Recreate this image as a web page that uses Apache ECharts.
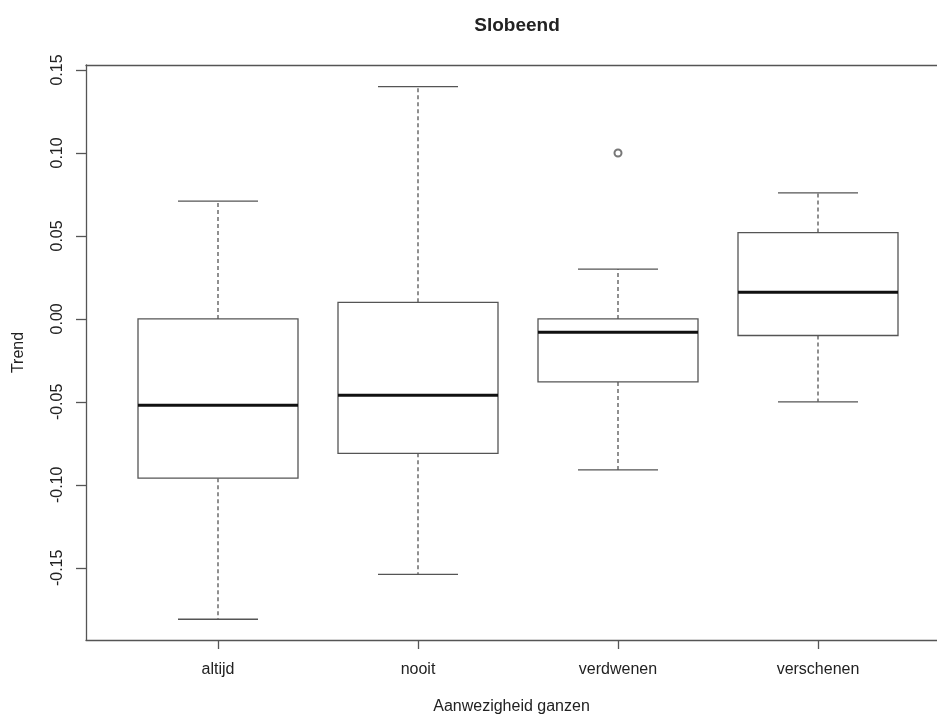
<!DOCTYPE html>
<html>
<head>
<meta charset="utf-8">
<script src="https://cdn.jsdelivr.net/npm/echarts@6/dist/echarts.min.js"></script>
<style>
html, body { margin: 0; padding: 0; background: #fff; }
#chart { width: 937px; height: 720px; }
</style>
</head>
<body>
<div id="chart"></div>
<script>
const categories = ['altijd', 'nooit', 'verdwenen', 'verschenen']
// per group: [lower whisker, Q1, median, Q3, upper whisker]
const boxStats = [
  [-0.181, -0.096, -0.052, 0.000, 0.071],
  [-0.154, -0.081, -0.046, 0.010, 0.140],
  [-0.091, -0.038, -0.008, 0.000, 0.030],
  [-0.050, -0.010, 0.016, 0.052, 0.076]
]
const outlierGroups = ['verdwenen']
const outlierValues = [0.100]
const yTicks = [-0.15, -0.10, -0.05, 0.00, 0.05, 0.10, 0.15]
const xTicks = [1, 2, 3, 4]

const lineColor = '#555'
const textColor = '#222'
const font = 'Liberation Sans, Arial, sans-serif'

// plot region is cut off on the right side, like the original picture
const xMin = 0.34
const xMax = 4.595

const chart = echarts.init(document.getElementById('chart'))

// R style box: solid box, thick median, dashed whiskers, half-width staples
function renderBox(params, api) {
  const x = api.value(0)
  const lo = api.coord([x, api.value(1)])
  const q1 = api.coord([x, api.value(2)])
  const med = api.coord([x, api.value(3)])
  const q3 = api.coord([x, api.value(4)])
  const hi = api.coord([x, api.value(5)])
  const half = api.size([0.8, 0])[0] / 2
  const staple = half / 2
  const cx = lo[0]
  const thin = { stroke: lineColor, lineWidth: 1.3 }
  const dashed = { stroke: lineColor, lineWidth: 1.3, lineDash: [4, 3] }
  return {
    type: 'group',
    children: [
      { type: 'line', shape: { x1: cx, y1: q3[1], x2: cx, y2: hi[1] }, style: dashed },
      { type: 'line', shape: { x1: cx, y1: q1[1], x2: cx, y2: lo[1] }, style: dashed },
      { type: 'line', shape: { x1: cx - staple, y1: hi[1], x2: cx + staple, y2: hi[1] }, style: thin },
      { type: 'line', shape: { x1: cx - staple, y1: lo[1], x2: cx + staple, y2: lo[1] }, style: thin },
      { type: 'rect', shape: { x: cx - half, y: q3[1], width: half * 2, height: q1[1] - q3[1] },
        style: { fill: '#fff', stroke: lineColor, lineWidth: 1.3 } },
      { type: 'line', shape: { x1: cx - half, y1: med[1], x2: cx + half, y2: med[1] },
        style: { stroke: '#111', lineWidth: 3 } }
    ]
  }
}

const frameLine = { show: true, onZero: false, lineStyle: { color: lineColor, width: 1.3 } }

chart.setOption({
  animation: false,
  backgroundColor: '#fff',
  title: {
    text: 'Slobeend',
    left: 512,
    top: 11,
    textAlign: 'center',
    textStyle: { fontFamily: font, fontSize: 19, fontWeight: 'bold', color: textColor }
  },
  grid: {
    left: 86,
    top: 65,
    right: 0,
    height: 577
  },
  xAxis: [
    {
      type: 'value',
      position: 'bottom',
      min: xMin,
      max: xMax,
      name: 'Aanwezigheid ganzen',
      nameLocation: 'middle',
      nameGap: 59,
      nameTextStyle: { fontFamily: font, fontSize: 16, color: textColor },
      axisLine: frameLine,
      splitLine: { show: false },
      axisTick: { show: true, length: 9, customValues: xTicks, lineStyle: { color: lineColor, width: 1.3 } },
      axisLabel: {
        customValues: xTicks,
        margin: 22,
        fontFamily: font,
        fontSize: 16,
        color: textColor,
        formatter: v => categories[Math.round(v) - 1]
      }
    },
    {
      // top edge of the frame
      type: 'value',
      position: 'top',
      min: xMin,
      max: xMax,
      axisLine: frameLine,
      axisTick: { show: false },
      axisLabel: { show: false },
      splitLine: { show: false }
    }
  ],
  yAxis: {
    type: 'value',
    position: 'left',
    min: -0.1935,
    max: 0.153,
    name: 'Trend',
    nameLocation: 'middle',
    nameGap: 59,
    nameRotate: 90,
    nameTextStyle: { fontFamily: font, fontSize: 16, color: textColor },
    axisLine: frameLine,
    splitLine: { show: false },
    axisTick: { show: true, length: 10, customValues: yTicks, lineStyle: { color: lineColor, width: 1.3 } },
    axisLabel: {
      customValues: yTicks,
      rotate: 90,
      margin: 20,
      fontFamily: font,
      fontSize: 16,
      color: textColor,
      formatter: v => v.toFixed(2)
    }
  },
  series: [
    {
      type: 'custom',
      xAxisIndex: 0,
      renderItem: renderBox,
      encode: { x: 0, y: [1, 2, 3, 4, 5] },
      data: boxStats.map((s, i) => [i + 1, ...s])
    },
    {
      type: 'scatter',
      xAxisIndex: 0,
      symbol: 'emptyCircle',
      symbolSize: 7,
      itemStyle: { color: lineColor, borderColor: lineColor, borderWidth: 1.3 },
      data: outlierGroups.map((g, i) => [categories.indexOf(g) + 1, outlierValues[i]])
    }
  ]
})
</script>
</body>
</html>
